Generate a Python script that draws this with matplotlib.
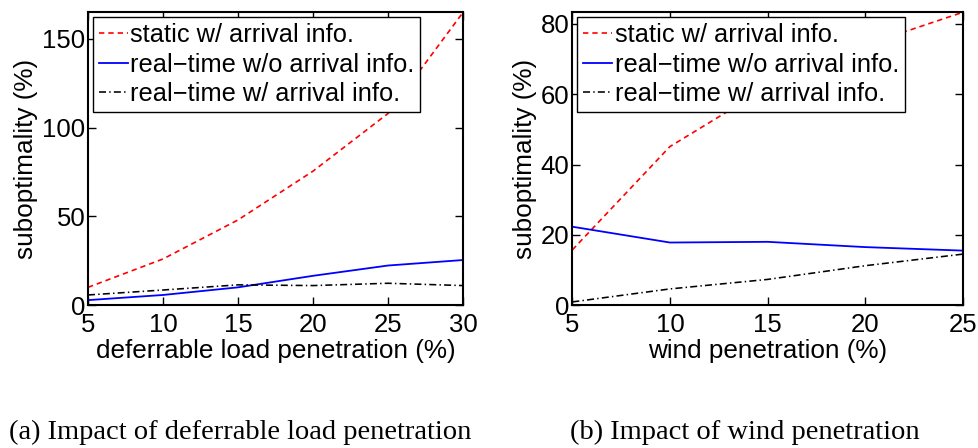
import matplotlib
matplotlib.use("Agg")
import matplotlib.pyplot as plt

# deferrable load penetration sweep
load_pen = [5, 10, 15, 20, 25, 30]
load_static = [10.0, 26.0, 48.0, 75.5, 108.0, 165.0]
load_rt_noinfo = [2.8, 5.7, 10.0, 16.5, 22.3, 25.4]
load_rt_info = [5.7, 8.5, 11.4, 11.0, 12.3, 11.0]

# wind penetration sweep
wind_pen = [5, 10, 15, 20, 25]
wind_static = [15.7, 45.1, 62.0, 74.0, 83.3]
wind_rt_noinfo = [22.3, 17.8, 18.0, 16.5, 15.5]
wind_rt_info = [0.9, 4.6, 7.3, 11.2, 14.5]

legend_labels = ["static w/ arrival info.",
                 "real\u2212time w/o arrival info.",
                 "real\u2212time w/ arrival info."]

plt.rcParams["font.family"] = ["Liberation Sans", "DejaVu Sans"]

fig = plt.figure(figsize=(9.79, 4.48), dpi=100)
ax1 = fig.add_axes([0.0899, 0.319, 0.3831, 0.6535])
ax2 = fig.add_axes([0.5846, 0.319, 0.3988, 0.6535])


def draw(ax, x, static, rt_noinfo, rt_info, xlabel, xticks, yticks, ylim):
    ax.plot(x, static, color="red", linestyle=(0, (3.2, 2.4)), linewidth=1.2)
    ax.plot(x, rt_noinfo, color="blue", linestyle="-", linewidth=1.3)
    ax.plot(x, rt_info, color="black", linestyle=(0, (4.4, 2, 0.9, 2)), linewidth=1.15)
    ax.set_xlim(x[0], x[-1])
    ax.set_ylim(*ylim)
    ax.set_xticks(xticks)
    ax.set_yticks(yticks)
    ax.tick_params(direction="in", length=6, width=1, top=True, right=True,
                   labelsize=18.5)
    ax.tick_params(axis="x", pad=6)
    ax.tick_params(axis="y", pad=2)
    for s in ax.spines.values():
        s.set_linewidth(1.5)
    ax.set_xlabel(xlabel, fontsize=18.8, labelpad=1)
    ax.set_ylabel("suboptimality (%)", fontsize=18.8, labelpad=3)
    leg = ax.legend(legend_labels, loc="upper left", fontsize=18.3,
                    fancybox=False, framealpha=1, edgecolor="black",
                    handlelength=1.15, handletextpad=0.1, borderpad=0.22,
                    labelspacing=0.22, borderaxespad=0.2)
    leg.get_frame().set_linewidth(1.0)


draw(ax1, load_pen, load_static, load_rt_noinfo, load_rt_info,
     "deferrable load penetration (%)", [5, 10, 15, 20, 25, 30],
     [0, 50, 100, 150], (0, 165))
draw(ax2, wind_pen, wind_static, wind_rt_noinfo, wind_rt_info,
     "wind penetration (%)", [5, 10, 15, 20, 25],
     [0, 20, 40, 60, 80], (0, 83.3))

fig.text(0.245, 0.034, "(a) Impact of deferrable load penetration",
         family="Liberation Serif", fontsize=20.5, ha="center", va="center")
fig.text(0.761, 0.034, "(b) Impact of wind penetration",
         family="Liberation Serif", fontsize=20.5, ha="center", va="center")

fig.savefig("out.png", dpi=100)
